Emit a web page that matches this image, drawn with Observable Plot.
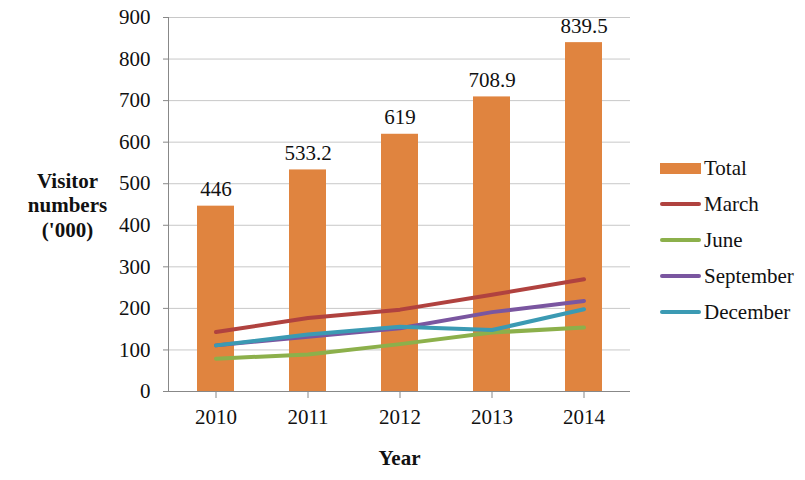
<!DOCTYPE html>
<html>
<head>
<meta charset="utf-8">
<script src="https://cdn.jsdelivr.net/npm/d3@7"></script>
<script src="https://cdn.jsdelivr.net/npm/@observablehq/plot@0.6"></script>
<style>
  html, body { margin: 0; padding: 0; background: #fff; }
  #wrap { position: relative; width: 805px; height: 480px; font-family: "Liberation Serif", serif; }
  #legend { position: absolute; left: 660px; top: 150px; font-size: 21px; color: #111; }
  .item { display: flex; align-items: center; height: 36px; }
  .sw { width: 41px; margin-right: 3px; }
  .bar { height: 11px; }
  .ln { height: 4px; border-radius: 2px; }
</style>
</head>
<body>
<div id="wrap"><div id="chart"></div><div id="legend"></div></div>
<script>
// Visitor numbers ('000) by year
const years = ["2010", "2011", "2012", "2013", "2014"];
const total = [446, 533.2, 619, 708.9, 839.5];
const march = [143, 177, 197, 233, 270];
const june = [79, 89, 114, 142, 154];
const september = [111, 132, 152, 191, 218];
const december = [111, 137, 156, 148, 198];

const seriesNames = ["March", "June", "September", "December"];
const seriesValues = [march, june, september, december];
const seriesColors = ["#B0423F", "#8CB04B", "#7A56A0", "#3B9AB3"];
const barColor = "#E0843F";

const bars = years.map((year, i) => ({year, value: total[i]}));
const lines = seriesNames.flatMap((name, s) =>
  years.map((year, i) => ({year, series: name, value: seriesValues[s][i]})));

const serif = "Liberation Serif";

const chart = Plot.plot({
  width: 805,
  height: 480,
  marginLeft: 168,
  marginRight: 175,
  marginTop: 17,
  marginBottom: 89,
  style: {background: "#fff", color: "#111"},
  x: {type: "band", domain: years, paddingInner: 0.6, paddingOuter: 0.3, label: null},
  y: {domain: [0, 900], label: null},
  color: {domain: seriesNames, range: seriesColors},
  marks: [
    Plot.gridY(d3.range(100, 901, 100), {stroke: "#c8c8c8", strokeOpacity: 1}),
    Plot.axisY(d3.range(0, 901, 100), {tickSize: 5, tickPadding: 13, stroke: "#888", fontSize: 21, fontFamily: serif}),
    Plot.axisX({tickSize: 7, tickPadding: 11, stroke: "#888", fontSize: 21, fontFamily: serif}),
    Plot.frame({anchor: "left", stroke: "#888"}),
    Plot.barY(bars, {x: "year", y: "value", fill: barColor}),
    Plot.text(bars, {x: "year", y: "value", text: d => String(d.value), lineAnchor: "bottom", dy: -10, fontSize: 21, fontFamily: serif, fill: "#111"}),
    Plot.line(lines, {x: "year", y: "value", z: "series", stroke: "series", strokeWidth: 4, strokeLinecap: "round", strokeLinejoin: "round"}),
    Plot.ruleY([0], {stroke: "#888"}),
    Plot.text(["Visitor\nnumbers\n('000)"], {frameAnchor: "left", dx: -101, textAnchor: "middle", fontWeight: "bold", fontSize: 21, fontFamily: serif, lineHeight: 1.18, fill: "#111"}),
    Plot.text(["Year"], {frameAnchor: "bottom", dy: 73, textAnchor: "middle", fontWeight: "bold", fontSize: 21, fontFamily: serif, fill: "#111"})
  ]
});
document.getElementById("chart").appendChild(chart);

// Legend: bar swatch for the total, line swatches for each month
const legend = document.getElementById("legend");
const entries = [{name: "Total", color: barColor, cls: "bar"}]
  .concat(seriesNames.map((name, i) => ({name, color: seriesColors[i], cls: "ln"})));
for (const e of entries) {
  const item = document.createElement("div");
  item.className = "item";
  const sw = document.createElement("div");
  sw.className = "sw " + e.cls;
  sw.style.background = e.color;
  const label = document.createElement("span");
  label.textContent = e.name;
  item.appendChild(sw);
  item.appendChild(label);
  legend.appendChild(item);
}
</script>
</body>
</html>
